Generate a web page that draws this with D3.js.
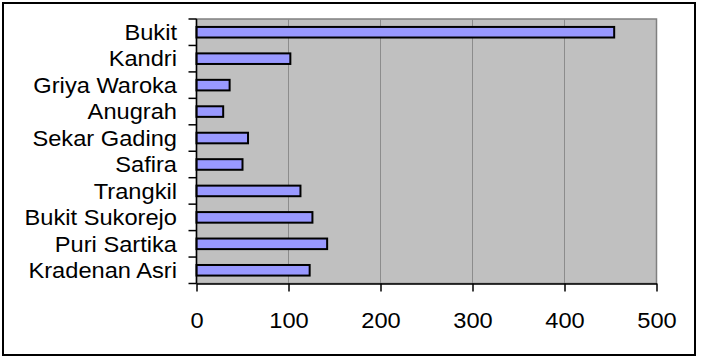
<!DOCTYPE html>
<html>
<head>
<meta charset="utf-8">
<script src="https://d3js.org/d3.v7.min.js"></script>
<style>
  body, html { margin: 0; padding: 0; background: #fff; }
  svg { display: block; }
  text { font-family: "Liberation Sans", Arial, sans-serif; font-size: 21.5px; fill: #000; }
</style>
</head>
<body>
<svg width="702" height="364"></svg>
<script>
// data, top to bottom
const categories = ["Bukit", "Kandri", "Griya Waroka", "Anugrah", "Sekar Gading",
                    "Safira", "Trangkil", "Bukit Sukorejo", "Puri Sartika", "Kradenan Asri"];
const values = [454, 102, 36, 29, 56, 50, 113, 126, 142, 123];
const xTicks = [0, 100, 200, 300, 400, 500];

const svg = d3.select("svg");
const stretch = 1.1; // the source text is a bit wider than plain Arial

// outer frame
svg.append("rect")
    .attr("x", 3).attr("y", 3)
    .attr("width", 692).attr("height", 352)
    .attr("fill", "#fff")
    .attr("stroke", "#000")
    .attr("stroke-width", 2);

const plotL = 196.5, plotR = 656.5, plotT = 19, plotB = 283.5;

const x = d3.scaleLinear().domain([0, 500]).range([plotL, plotR]);
const y = d3.scaleBand().domain(categories).range([plotT, plotB]).padding(0);

// plot area
svg.append("rect")
    .attr("x", plotL).attr("y", plotT)
    .attr("width", plotR - plotL).attr("height", plotB - plotT)
    .attr("fill", "#c0c0c0")
    .attr("stroke", "#808080")
    .attr("stroke-width", 1.5);

// gridlines
svg.append("g")
    .selectAll("line")
    .data(xTicks.slice(1, -1))
    .join("line")
    .attr("x1", d => x(d)).attr("x2", d => x(d))
    .attr("y1", plotT).attr("y2", plotB)
    .attr("stroke", "#8c8c8c")
    .attr("stroke-width", 1);

// bars
const barH = y.bandwidth() * 0.4;
svg.append("g")
    .selectAll("rect")
    .data(values)
    .join("rect")
    .attr("x", x(0))
    .attr("y", (d, i) => y(categories[i]) + (y.bandwidth() - barH) / 2)
    .attr("width", d => x(d) - x(0))
    .attr("height", barH)
    .attr("fill", "#9999ff")
    .attr("stroke", "#000")
    .attr("stroke-width", 2);

// y axis line + ticks at band boundaries
svg.append("line")
    .attr("x1", plotL).attr("x2", plotL)
    .attr("y1", plotT).attr("y2", plotB)
    .attr("stroke", "#000").attr("stroke-width", 1.5);

const bounds = categories.map(c => y(c)).concat([plotB]);
svg.append("g")
    .selectAll("line")
    .data(bounds)
    .join("line")
    .attr("x1", plotL - 8).attr("x2", plotL)
    .attr("y1", d => d).attr("y2", d => d)
    .attr("stroke", "#000").attr("stroke-width", 1.5);

// category labels
svg.append("g")
    .selectAll("text")
    .data(categories)
    .join("text")
    .attr("transform", d => `translate(177,${y(d) + y.bandwidth() / 2}) scale(${stretch},1)`)
    .attr("dy", "0.36em")
    .attr("text-anchor", "end")
    .text(d => d);

// x axis
const xAxis = d3.axisBottom(x)
    .tickValues(xTicks)
    .tickSize(8)
    .tickPadding(21)
    .tickSizeOuter(0);

const gx = svg.append("g")
    .attr("transform", `translate(0,${plotB})`)
    .call(xAxis);
gx.select(".domain").attr("stroke", "#000").attr("stroke-width", 1.5);
gx.selectAll(".tick line").attr("stroke", "#000").attr("stroke-width", 1.5);
gx.selectAll(".tick text")
    .attr("transform", `scale(${stretch},1)`)
    .style("font-family", "'Liberation Sans', Arial, sans-serif")
    .style("font-size", "21.5px")
    .attr("fill", "#000");
</script>
</body>
</html>
